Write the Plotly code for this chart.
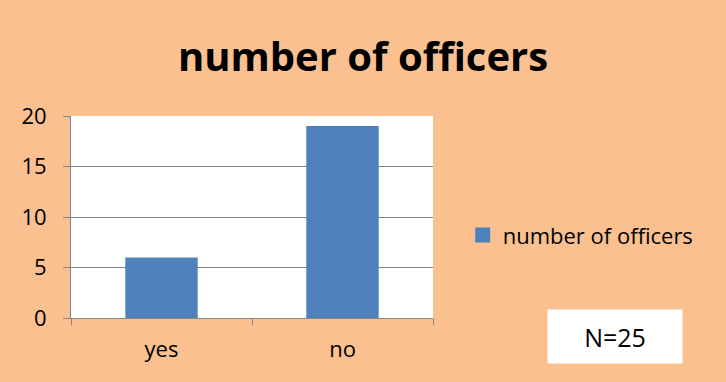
import plotly.graph_objects as go

categories = ["yes", "no"]
values = [6, 19]
series_name = "number of officers"
title_text = "number of officers"
note_text = "N=25"

BG = "#FAC090"
BAR = "#4F81BD"
GRID = "#868686"
FONT = "Open Sans"

fig = go.Figure()
fig.add_trace(go.Bar(x=categories, y=values, name=series_name, marker_color=BAR,
                     marker_line_width=0, showlegend=False))
# legend entry with a larger square swatch, like the original
fig.add_trace(go.Scatter(x=[None], y=[None], mode="markers", name=series_name,
                         marker=dict(symbol="square", size=15, color=BAR), showlegend=True))

fig.update_layout(
    width=726, height=382,
    paper_bgcolor=BG, plot_bgcolor="white",
    margin=dict(l=71, r=293, t=116, b=64),
    bargap=0.6,
    title=dict(text="<b>" + title_text + "</b>", x=0.5, xanchor="center", y=0.852, yanchor="middle",
               font=dict(family=FONT, size=40, color="black")),
    font=dict(family=FONT, size=22, color="black"),
    showlegend=True,
    legend=dict(x=1.082, xanchor="left", y=0.41, yanchor="middle", bgcolor="rgba(0,0,0,0)",
                font=dict(family=FONT, size=22, color="black"), itemwidth=30),
    xaxis=dict(showline=True, linecolor=GRID, linewidth=1, ticks="outside", tickson="boundaries",
               ticklen=6, tickcolor=GRID, showgrid=False, ticklabelstandoff=12,
               tickfont=dict(family=FONT, size=22)),
    yaxis=dict(range=[0, 20], dtick=5, showline=True, linecolor=GRID, linewidth=1, ticks="outside",
               ticklen=7, tickcolor=GRID, showgrid=True, gridcolor=GRID, gridwidth=1,
               zeroline=False, ticklabelstandoff=12, tickfont=dict(family=FONT, size=22)),
)

fig.add_annotation(xref="paper", yref="paper",
                   x=(615 - 71) / 362, y=(318 - 336) / 202,
                   xanchor="center", yanchor="middle",
                   text=note_text, showarrow=False,
                   font=dict(family=FONT, size=25, color="black"),
                   bgcolor="white", width=134, height=53, borderpad=0)

fig.write_html("out.html")
